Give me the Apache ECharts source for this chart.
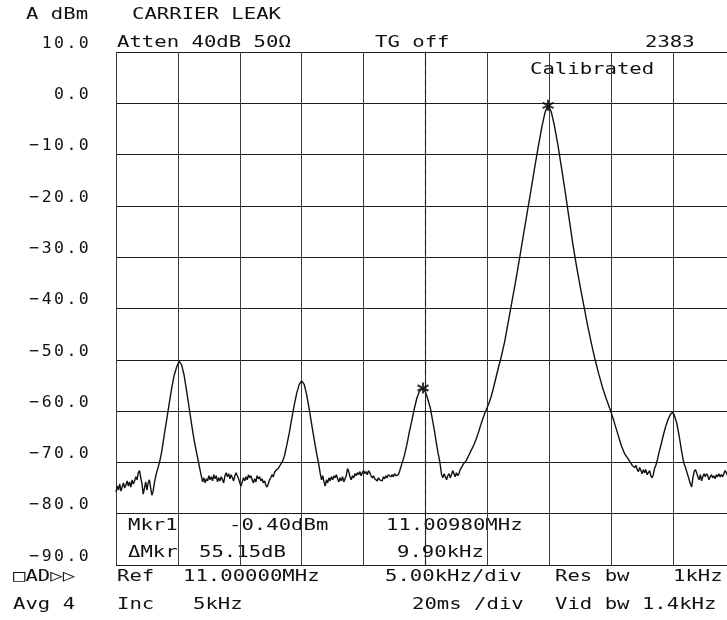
<!DOCTYPE html>
<html><head><meta charset="utf-8">
<script src="https://cdn.jsdelivr.net/npm/echarts@6/dist/echarts.min.js"></script>
<style>html,body{margin:0;padding:0;background:#fff}#c{width:727px;height:620px}</style>
</head><body><div id="c"></div>
<script>
// Frequency offset from centre 11.00000 MHz, in kHz (span 50 kHz, 5 kHz/div)
const freqKHz = [
// left noise
-25.0,-24.9,-24.8,-24.7,-24.6,-24.5,-24.4,-24.3,-24.2,-24.1,-24.0,-23.9,-23.8,-23.7,-23.6,-23.5,-23.4,-23.3,-23.2,-23.1,
-23.0,-22.9,-22.8,-22.7,-22.6,-22.5,-22.4,-22.3,-22.2,-22.1,-22.0,-21.9,-21.8,-21.7,-21.6,
// sideband -20 kHz
-21.45,-21.3,-21.1,-20.9,-20.7,-20.5,-20.3,-20.1,-19.9,-19.7,-19.5,-19.3,-19.1,-18.9,-18.7,-18.5,-18.3,-18.15,
// noise
-18.0,-17.9,-17.8,-17.7,-17.6,-17.5,-17.4,-17.3,-17.2,-17.1,-17.0,-16.9,-16.8,-16.7,-16.6,-16.5,-16.4,-16.3,-16.2,-16.1,
-16.0,-15.9,-15.8,-15.7,-15.6,-15.5,-15.4,-15.3,-15.2,-15.1,-15.0,-14.9,-14.8,-14.7,-14.6,-14.5,-14.4,-14.3,-14.2,-14.1,
-14.0,-13.9,-13.8,-13.7,-13.6,-13.5,-13.4,-13.3,-13.2,-13.1,-13.0,-12.9,-12.8,-12.7,-12.6,-12.5,-12.4,-12.3,-12.2,-12.1,
-12.0,-11.9,-11.8,-11.7,
// sideband -10 kHz
-11.55,-11.4,-11.2,-11.0,-10.8,-10.6,-10.4,-10.2,-10.0,-9.8,-9.6,-9.4,-9.2,-9.0,-8.8,-8.65,
// noise
-8.5,-8.4,-8.3,-8.2,-8.1,-8.0,-7.9,-7.8,-7.7,-7.6,-7.5,-7.4,-7.3,-7.2,-7.1,-7.0,-6.9,-6.8,-6.7,-6.6,
-6.5,-6.4,-6.3,-6.2,-6.1,-6.0,-5.9,-5.8,-5.7,-5.6,-5.5,-5.4,-5.3,-5.2,-5.1,-5.0,-4.9,-4.8,-4.7,-4.6,
-4.5,-4.4,-4.3,-4.2,-4.1,-4.0,-3.9,-3.8,-3.7,-3.6,-3.5,-3.4,-3.3,-3.2,-3.1,-3.0,-2.9,-2.8,-2.7,-2.6,
-2.5,-2.4,-2.3,-2.2,-2.1,
// carrier leak
-2.0,-1.85,-1.7,-1.5,-1.3,-1.1,-0.9,-0.7,-0.5,-0.25,0.0,0.2,0.4,0.55,0.7,0.85,1.0,1.15,
// noise
1.3,1.4,1.5,1.6,1.7,1.8,1.9,2.0,2.1,2.2,2.3,2.4,2.5,2.6,2.7,2.8,2.9,3.0,3.1,
// wanted signal
3.3,3.5,3.7,3.9,4.1,4.3,4.5,4.7,4.9,5.1,5.3,5.5,5.7,5.9,6.1,6.4,6.7,7.0,7.3,7.6,
7.9,8.2,8.5,8.8,9.1,9.4,9.65,9.9,10.15,10.4,10.7,11.0,11.3,11.6,11.9,12.2,12.5,12.8,13.1,13.4,
13.7,14.0,14.3,14.6,14.9,15.2,15.5,15.8,16.1,16.4,
// noise
16.5,16.6,16.7,16.8,16.9,17.0,17.1,17.2,17.3,17.4,17.5,17.6,17.7,17.8,17.9,18.0,18.1,18.2,18.3,18.4,
18.5,18.6,
// sideband +20 kHz
18.7,18.85,19.0,19.2,19.4,19.6,19.8,19.95,20.1,20.3,20.5,20.7,20.85,
// noise
21.0,21.1,21.2,21.3,21.4,21.5,21.6,21.7,21.8,21.9,22.0,22.1,22.2,22.3,22.4,22.5,22.6,22.7,22.8,22.9,
23.0,23.1,23.2,23.3,23.4,23.5,23.6,23.7,23.8,23.9,24.0,24.1,24.2,24.3,24.4,24.5,24.6,24.7,24.8,24.9,
25.0
];
const traceDbm = [
// left noise
-75.8,-74.6,-75.4,-74.2,-75.6,-74.8,-74.0,-75.0,-74.4,-73.6,-74.6,-73.8,-74.8,-73.4,-74.2,-73.6,-72.8,-73.4,-72.0,-71.6,
-73.0,-74.2,-76.2,-75.0,-73.8,-75.4,-74.0,-73.4,-75.0,-76.4,-75.6,-74.0,-72.8,-71.8,-71.0,
// sideband -20 kHz
-69.6,-67.8,-64.6,-61.6,-58.5,-55.5,-53.0,-51.4,-50.3,-51.0,-53.0,-56.0,-59.2,-62.5,-65.5,-68.0,-70.4,-72.2,
// noise
-73.8,-73.0,-74.0,-73.2,-73.6,-72.6,-73.4,-72.8,-73.6,-72.4,-73.2,-72.6,-73.8,-73.0,-73.6,-72.8,-73.4,-74.0,-72.6,-72.0,
-72.8,-72.2,-73.2,-72.4,-73.0,-73.6,-72.6,-72.0,-72.6,-73.2,-74.0,-74.6,-73.8,-73.0,-73.6,-72.8,-73.4,-72.4,-73.0,-72.6,
-73.4,-74.0,-73.2,-73.8,-72.6,-73.2,-72.8,-73.6,-73.2,-74.0,-73.6,-74.4,-74.8,-74.2,-73.4,-73.0,-72.4,-72.8,-72.0,-71.6,
-71.8,-71.2,-70.8,-70.6,
// sideband -10 kHz
-69.8,-68.8,-66.6,-64.2,-61.4,-58.8,-56.5,-54.8,-54.1,-54.8,-56.8,-59.5,-62.5,-65.4,-68.2,-70.0,
// noise
-72.2,-73.4,-72.6,-73.8,-74.6,-73.4,-74.0,-73.0,-73.6,-72.8,-73.4,-72.6,-73.0,-72.4,-73.2,-73.8,-73.0,-73.6,-72.8,-73.8,
-73.2,-72.6,-71.2,-71.8,-72.8,-73.4,-72.6,-73.0,-72.2,-72.6,-72.0,-72.4,-71.8,-72.6,-72.0,-71.6,-72.2,-71.8,-72.4,-71.6,
-72.0,-72.6,-73.0,-72.6,-73.2,-73.0,-73.6,-73.0,-73.4,-73.2,-73.6,-72.8,-73.2,-72.6,-73.0,-72.4,-72.2,-72.8,-72.4,-72.8,
-72.2,-72.6,-72.8,-72.4,-71.8,
// carrier leak
-71.0,-69.8,-68.6,-66.5,-64.0,-61.8,-59.5,-57.5,-56.2,-55.5,-56.3,-57.8,-59.5,-61.5,-63.5,-65.8,-68.0,-69.8,
// noise
-72.4,-73.0,-72.2,-72.8,-73.4,-72.6,-72.2,-73.0,-72.4,-71.6,-72.2,-72.8,-72.0,-72.6,-72.2,-71.4,-71.0,-70.6,-70.2,
// wanted signal
-69.6,-68.6,-67.6,-66.6,-65.4,-64.0,-62.4,-61.0,-59.8,-58.6,-57.2,-55.4,-53.4,-51.4,-49.6,-46.4,-42.4,-38.4,-34.4,-30.2,
-25.8,-21.5,-17.2,-12.8,-8.6,-4.6,-1.8,-0.4,-1.6,-4.2,-8.2,-12.8,-17.5,-22.5,-27.4,-31.8,-35.8,-39.6,-43.4,-46.8,
-50.0,-52.8,-55.4,-57.6,-59.6,-61.8,-64.2,-66.6,-68.4,-69.4,
// noise
-69.8,-70.2,-70.6,-70.4,-71.0,-70.6,-71.4,-71.8,-71.0,-71.6,-72.2,-71.4,-72.0,-71.4,-72.4,-72.0,-71.6,-72.6,-73.0,-72.4,
-71.2,-70.6,
// sideband +20 kHz
-69.8,-68.2,-66.8,-64.8,-63.0,-61.6,-60.6,-60.2,-60.8,-62.4,-65.0,-68.0,-70.0,
// noise
-71.0,-71.8,-72.6,-73.4,-74.2,-74.8,-73.0,-71.8,-71.4,-72.0,-72.8,-73.4,-72.4,-73.6,-72.8,-72.2,-72.8,-72.2,-72.6,-73.4,
-72.8,-72.4,-73.0,-72.6,-73.2,-72.4,-72.8,-72.2,-72.8,-72.4,-72.8,-72.2,-71.6,-72.0,-72.6,-72.2,-72.8,-72.4,-72.2,-72.8,
-72.6
];
const markerFreq = [9.9, -0.2];
const markerDbm = [-0.4, -55.5];
const yTickValues = [10, 0, -10, -20, -30, -40, -50, -60, -70, -80, -90];
const yTickLabels = ['10.0', '0.0', '−10.0', '−20.0', '−30.0', '−40.0', '−50.0', '−60.0', '−70.0', '−80.0', '−90.0'];

const FONT = 'DejaVu Sans Mono';
function txt(s, x, y) {
  return { type: 'text', x: x, y: y, scaleX: 1.25, scaleY: 1, silent: true,
    style: { text: s, x: 0, y: 0, fill: '#111', font: '16.5px "' + FONT + '"', textAlign: 'left', textVerticalAlign: 'middle' } };
}
const texts = [
  ['A dBm', 26, 15], ['CARRIER LEAK', 132, 15],
  ['Atten 40dB 50Ω', 117, 43], ['TG off', 375, 43], ['2383', 645, 43],
  ['Calibrated', 530, 70],
  ['Mkr1', 128, 526], ['-0.40dBm', 229, 526], ['11.00980MHz', 386, 526],
  ['ΔMkr', 128, 553], ['55.15dB', 199, 553], ['9.90kHz', 397, 553],
  ['□AD▷▷', 13, 577], ['Ref', 117, 577], ['11.00000MHz', 183, 577], ['5.00kHz/div', 385, 577], ['Res bw', 555, 577], ['1kHz', 673, 577],
  ['Avg 4', 13, 605], ['Inc', 117, 605], ['5kHz', 193, 605], ['20ms /div', 412, 605], ['Vid bw 1.4kHz', 555, 605]
];

const data = freqKHz.map((f, i) => [f, traceDbm[i]]);
const markers = markerFreq.map((f, i) => [f, markerDbm[i]]);
const vColors = ['#3a3a3a','#3a3a3a','#3a3a3a','#3a3a3a','#3a3a3a','transparent','#3a3a3a','#3a3a3a','#3a3a3a','#3a3a3a','#3a3a3a'];

const chart = echarts.init(document.getElementById('c'), null, { renderer: 'canvas' });
chart.setOption({
  animation: false,
  backgroundColor: '#fff',
  grid: { left: 116, top: 52, width: 619, height: 513, containLabel: false, outerBoundsMode: 'none' },
  xAxis: {
    type: 'value', min: -25, max: 25, interval: 5,
    axisLine: { show: false }, axisTick: { show: false }, axisLabel: { show: false },
    splitLine: { show: true, lineStyle: { color: vColors, width: 1 } }
  },
  yAxis: {
    type: 'value', min: -90, max: 10, interval: 10,
    axisLine: { show: true, lineStyle: { color: '#222', width: 1 } }, axisTick: { show: false },
    axisLabel: { show: true, margin: 26, verticalAlign: 'bottom', color: '#111',
      formatter: v => { const i = yTickValues.indexOf(v); if (i < 0) return ''; return yTickLabels[i].split('').map(ch => '{c|' + ch + '}').join(''); },
      rich: { c: { width: 12.4, align: 'center', fontFamily: FONT, fontSize: 16.5, color: '#111' } } },
    splitLine: { show: true, lineStyle: { color: '#1a1a1a', width: 1 } }
  },
  series: [
    { type: 'line', data: data, showSymbol: false, symbol: 'none', lineStyle: { color: '#111', width: 1.4 },
      markLine: { silent: true, symbol: 'none', label: { show: false },
        lineStyle: { color: '#222', type: [5, 5], width: 1.2 }, data: [{ xAxis: 0 }] } },
    { type: 'scatter', data: markers, symbol: 'path://M5,0L5,10M0.7,2.5L9.3,7.5M0.7,7.5L9.3,2.5', symbolSize: 11,
      itemStyle: { color: 'transparent', borderColor: '#000', borderWidth: 2 } }
  ],
  graphic: texts.map(t => txt(t[0], t[1], t[2]))
});
</script></body></html>
